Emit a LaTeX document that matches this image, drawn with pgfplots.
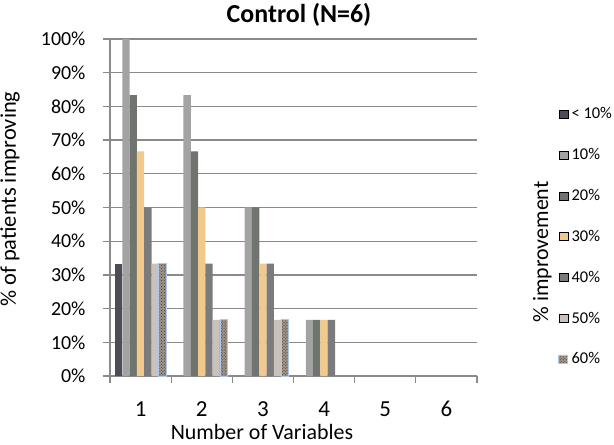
\documentclass[border=0pt]{standalone}
\usepackage{pgfplots}
\pgfplotsset{compat=1.18}
\usepackage{fontspec}
\setmainfont{Carlito}
\usetikzlibrary{patterns}
\definecolor{gridgray}{HTML}{8A8A8A}
\definecolor{c1}{HTML}{4D4D55}
\definecolor{c2}{HTML}{A3A3A3}
\definecolor{c3}{HTML}{6F746F}
\definecolor{c4}{HTML}{F2C98C}
\definecolor{c5}{HTML}{7B7B7B}
\definecolor{c6}{HTML}{C9C1BA}
\definecolor{c7}{HTML}{A0958B}
\definecolor{c7b}{HTML}{AFC8E8}
\definecolor{c7p}{HTML}{3A302A}
\begin{document}
\begin{tikzpicture}
\path[use as bounding box] (-110bp,-69bp) rectangle (504bp,376bp);
\begin{axis}[
  at={(0,0)}, anchor=south west,
  scale only axis, width=367bp, height=337bp,
  clip=false,
  xmin=0.5, xmax=6.5, ymin=0, ymax=100,
  ybar=0pt, bar width=7.3bp,
  every axis plot/.append style={legend image code/.code={\draw[##1] (0bp,-4bp) rectangle (9bp,4bp);}},
  axis lines*=left,
  axis line style={draw=gridgray, line width=1.3bp},
  ytick={0,10,...,100},
  yticklabels={0\%,10\%,20\%,30\%,40\%,50\%,60\%,70\%,80\%,90\%,100\%},
  ymajorgrids,
  major grid style={draw=gridgray, line width=1.3bp},
  xtick={0.5,1.5,...,6.5},
  xticklabels={1,2,3,4,5,6,{}},
  xticklabel style={xshift=30.6bp, yshift=-15bp, font=\fontsize{23}{23}\selectfont},
  yticklabel style={xshift=-14bp, font=\fontsize{20}{20}\selectfont},
  tick align=outside,
  major tick length=7bp,
  tick style={draw=gridgray, line width=1.3bp},
  xlabel={Number of Variables},
  xlabel style={at={(axis description cs:0.414,-0.166)}, anchor=center, font=\fontsize{22}{22}\selectfont},
  ylabel={\% of patients improving},
  ylabel style={at={(axis description cs:-0.272,0.525)}, anchor=center, font=\fontsize{22.5}{22.5}\selectfont},
  legend style={at={(1.221,0.801)}, anchor=north west, draw=none, fill=none,
    font=\fontsize{16.5}{16.5}\selectfont, row sep=25.1bp, column sep=2bp, inner sep=0pt,
    nodes={inner sep=1.5bp}},
  legend cell align=left,
]
\addplot[fill=c1, draw=none] coordinates {(1,33.33)};
\addplot[fill=c2, draw=none] coordinates {(1,100) (2,83.33) (3,50) (4,16.67)};
\addplot[fill=c3, draw=none] coordinates {(1,83.33) (2,66.67) (3,50) (4,16.67)};
\addplot[fill=c4, draw=none] coordinates {(1,66.67) (2,50) (3,33.33) (4,16.67)};
\addplot[fill=c5, draw=none] coordinates {(1,50) (2,33.33) (3,33.33) (4,16.67)};
\addplot[fill=c6, draw=none] coordinates {(1,33.33) (2,16.67) (3,16.67)};
\addplot[fill=c7, draw=c7b, line width=0.8bp, postaction={pattern=crosshatch dots, pattern color=c7p}] coordinates {(1,33.33) (2,16.67) (3,16.67)};
\legend{< 10\%,10\%,20\%,30\%,40\%,50\%,60\%}
\node[rotate=90, font=\fontsize{22}{22}\selectfont] at (rel axis cs:1.178,0.368) {\% improvement};
\node[font=\bfseries\fontsize{26}{26}\selectfont] at (rel axis cs:0.515,1.071) {Control (N=6)};
\end{axis}
\end{tikzpicture}
\end{document}
